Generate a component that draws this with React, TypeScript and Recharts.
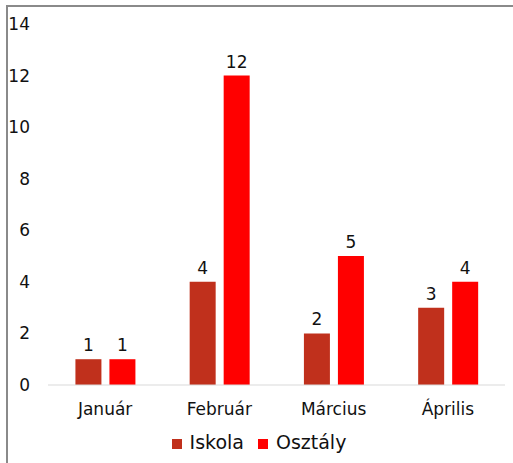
import { BarChart, Bar, XAxis, YAxis, Legend, LabelList } from "recharts";

/* ================= DATA ================= */

const months = ["Január", "Február", "Március", "Április"];
const iskola = [1, 4, 2, 3];
const osztaly = [1, 12, 5, 4];
const yTicks = [0, 2, 4, 6, 8, 10, 12, 14];

const data = months.map((m, i) => ({
  name: m,
  Iskola: iskola[i],
  Osztály: osztaly[i],
}));

const FONT = "'DejaVu Sans', Verdana, sans-serif";
const TEXT = "#111";

/* ================= COMPONENT ================= */

export default function App() {
  return (
    <div style={styles.page}>
      <div style={styles.frame} />
      <BarChart
        width={513}
        height={463}
        data={data}
        margin={{ top: 24, right: 8, left: 0, bottom: 48 }}
        barCategoryGap="24%"
        barGap={8}
      >
        <XAxis
          dataKey="name"
          height={30}
          tickLine={false}
          axisLine={{ stroke: "#d9d9d9" }}
          tick={{ fill: TEXT, fontSize: 17, fontFamily: FONT }}
          tickMargin={12}
        />
        <YAxis
          width={48}
          domain={[0, 14]}
          ticks={yTicks}
          axisLine={false}
          tickLine={false}
          tickSize={0}
          tickMargin={18}
          tick={{ fill: TEXT, fontSize: 17, fontFamily: FONT }}
        />
        <Legend
          layout="horizontal"
          verticalAlign="middle"
          align="center"
          iconType="square"
          iconSize={10}
          wrapperStyle={{ top: 431, left: 0, width: 532, fontFamily: FONT, fontSize: 19 }}
          formatter={(v) => <span style={{ color: TEXT, paddingLeft: 4, paddingRight: 4 }}>{v}</span>}
        />
        <Bar dataKey="Iskola" fill="#c0301c" isAnimationActive={false}>
          <LabelList
            dataKey="Iskola"
            position="top"
            offset={8}
            style={{ fill: TEXT, fontSize: 17, fontFamily: FONT }}
          />
        </Bar>
        <Bar dataKey="Osztály" fill="#ff0000" isAnimationActive={false}>
          <LabelList
            dataKey="Osztály"
            position="top"
            offset={8}
            style={{ fill: TEXT, fontSize: 17, fontFamily: FONT }}
          />
        </Bar>
      </BarChart>
    </div>
  );
}

/* ================= STYLES ================= */

const styles: Record<string, React.CSSProperties> = {
  page: {
    position: "absolute",
    left: 0,
    top: 0,
    width: 513,
    height: 463,
    background: "#fff",
  },
  frame: {
    position: "absolute",
    left: 6,
    top: 5,
    width: 520,
    height: 470,
    borderLeft: "2px solid #8a8a8a",
    borderTop: "2px solid #8a8a8a",
  },
};
